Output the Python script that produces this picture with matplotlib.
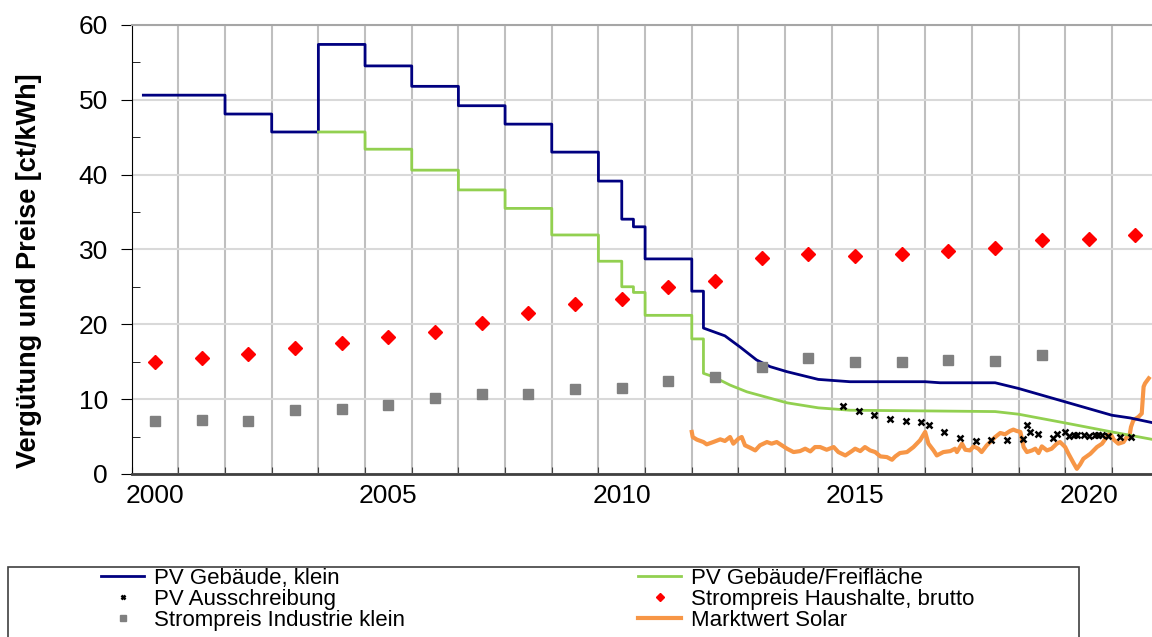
import numpy as np
import matplotlib
matplotlib.use("Agg")
import matplotlib.pyplot as plt
from matplotlib.patches import Rectangle

plt.rcParams["font.family"] = ["Liberation Sans", "DejaVu Sans"]

# --- data (years as decimal years, values in ct/kWh) ---

# PV Gebäude, klein: step tariffs, then the monthly degression curve
small_step_x = [2000.25, 2002.0, 2003.0, 2004.0, 2005.0, 2006.0, 2007.0, 2008.0,
                2009.0, 2010.0, 2010.5, 2010.75, 2011.0, 2012.0]
small_step_y = [50.62, 48.10, 45.70, 57.40, 54.53, 51.80, 49.21, 46.75,
                43.01, 39.14, 34.05, 33.03, 28.74, 24.43]
small_curve_x = [2012.25, 2012.71, 2013.04, 2013.39, 2013.68, 2014.04, 2014.71, 2015.39,
                 2017.0, 2017.32, 2018.5, 2019.0, 2020.0, 2021.0, 2021.39, 2021.86]
small_curve_y = [19.50, 18.46, 16.94, 15.23, 14.34, 13.67, 12.64, 12.33,
                 12.33, 12.19, 12.19, 11.43, 9.64, 7.85, 7.49, 6.87]

# PV Gebäude/Freifläche
free_step_x = [2004.0, 2005.0, 2006.0, 2007.0, 2008.0, 2009.0, 2010.0, 2010.5,
               2010.75, 2011.0, 2012.0]
free_step_y = [45.70, 43.40, 40.60, 37.96, 35.49, 31.94, 28.43, 25.02,
               24.26, 21.20, 18.05]
free_curve_x = [2012.25, 2012.46, 2012.82, 2013.18, 2014.04, 2014.71, 2015.39,
                2017.0, 2018.5, 2019.0, 2020.0, 2021.0, 2021.86]
free_curve_y = [13.45, 13.00, 11.88, 10.98, 9.51, 8.84, 8.52,
                8.43, 8.34, 7.99, 6.82, 5.62, 4.63]

# PV Ausschreibung (auction results)
auction_x = [2015.25, 2015.59, 2015.91, 2016.25, 2016.59, 2016.91, 2017.09, 2017.41,
             2017.75, 2018.09, 2018.41, 2018.75, 2019.09, 2019.18, 2019.25, 2019.41,
             2019.74, 2019.82, 2020.0, 2020.09, 2020.18, 2020.26, 2020.41, 2020.5,
             2020.64, 2020.71, 2020.79, 2020.91, 2021.18, 2021.41]
auction_y = [9.15, 8.43, 7.94, 7.36, 7.14, 6.91, 6.51, 5.62,
             4.85, 4.36, 4.59, 4.59, 4.68, 6.51, 5.62, 5.35,
             4.81, 5.35, 5.62, 5.03, 5.17, 5.26, 5.21, 5.12,
             5.21, 5.21, 5.21, 5.12, 4.99, 4.99]

# yearly prices, plotted at mid-year
price_years = np.arange(2000, 2022)
household_price = [15.00, 15.46, 16.10, 16.90, 17.55, 18.26, 18.93, 20.13, 21.46, 22.70,
                   23.35, 25.03, 25.84, 28.88, 29.40, 29.15, 29.35, 29.75, 30.18, 31.27,
                   31.40, 31.90]
industry_years = np.arange(2000, 2020)
industry_price = [7.08, 7.22, 7.08, 8.50, 8.64, 9.22, 10.11, 10.65, 10.65, 11.32,
                  11.49, 12.40, 12.90, 14.34, 15.46, 14.97, 14.97, 15.23, 15.10, 15.86]

# Marktwert Solar (monthly)
market_x = [2012.00, 2012.02, 2012.11, 2012.25, 2012.32, 2012.46, 2012.61, 2012.71, 2012.82,
            2012.89, 2013.00, 2013.07, 2013.14, 2013.25, 2013.36, 2013.46, 2013.61, 2013.71,
            2013.82, 2013.93, 2014.04, 2014.18, 2014.32, 2014.43, 2014.54, 2014.64, 2014.75,
            2014.89, 2015.04, 2015.14, 2015.29, 2015.43, 2015.50, 2015.61, 2015.71, 2015.82,
            2015.93, 2016.04, 2016.18, 2016.29, 2016.36, 2016.46, 2016.61, 2016.75, 2016.89,
            2017.00, 2017.07, 2017.18, 2017.25, 2017.39, 2017.54, 2017.64, 2017.68, 2017.79,
            2017.86, 2017.96, 2018.04, 2018.14, 2018.21, 2018.32, 2018.43, 2018.50, 2018.61,
            2018.71, 2018.82, 2018.89, 2018.96, 2019.04, 2019.11, 2019.18, 2019.29, 2019.36,
            2019.43, 2019.50, 2019.61, 2019.71, 2019.82, 2019.89, 2020.00, 2020.07, 2020.18,
            2020.25, 2020.32, 2020.39, 2020.54, 2020.68, 2020.79, 2020.89, 2020.96, 2021.04,
            2021.14, 2021.25, 2021.32, 2021.38, 2021.41, 2021.46, 2021.57, 2021.64, 2021.68,
            2021.71, 2021.79]
market_y = [5.62, 4.94, 4.59, 4.27, 3.96, 4.27, 4.63, 4.41, 4.94,
            4.05, 4.72, 4.94, 3.83, 3.51, 3.15, 3.83, 4.27, 4.05,
            4.27, 3.83, 3.38, 2.93, 3.06, 3.38, 3.02, 3.60, 3.60,
            3.24, 3.60, 2.93, 2.48, 3.06, 3.38, 3.06, 3.60, 3.15,
            2.93, 2.35, 2.26, 1.90, 2.35, 2.80, 2.93, 3.60, 4.50,
            5.62, 4.05, 3.15, 2.48, 2.93, 3.06, 3.38, 2.93, 4.05,
            3.24, 3.15, 3.69, 3.38, 2.93, 3.83, 4.50, 4.94, 5.48,
            5.30, 5.75, 5.93, 5.75, 5.62, 3.60, 2.93, 3.15, 3.38,
            2.80, 3.69, 3.15, 3.38, 4.05, 4.27, 3.60, 2.71, 1.45,
            0.69, 1.28, 2.04, 2.71, 3.60, 4.05, 4.94, 5.48, 4.59,
            4.05, 4.27, 4.94, 5.17, 6.29, 7.18, 7.63, 8.08, 11.66,
            12.10, 12.78]

year_labels = [2000, 2005, 2010, 2015, 2020]


def step_curve(step_x, step_y, curve_x, curve_y):
    # each tariff holds until the next change, then the smooth part follows
    ends = step_x[1:] + [curve_x[0]]
    xs, ys = [], []
    for x0, x1, y in zip(step_x, ends, step_y):
        xs += [x0, x1]
        ys += [y, y]
    return xs + curve_x, ys + curve_y


fig = plt.figure(figsize=(11.52, 6.37), dpi=100)
ax = fig.add_axes([0.1143, 0.2559, 0.8857, 0.7049])

x, y = step_curve(small_step_x, small_step_y, small_curve_x, small_curve_y)
ax.plot(x, y, color="#000080", lw=2.0, label="PV Gebäude, klein", zorder=4)
x, y = step_curve(free_step_x, free_step_y, free_curve_x, free_curve_y)
ax.plot(x, y, color="#92d050", lw=2.0, label="PV Gebäude/Freifläche", zorder=4)
ax.plot(auction_x, auction_y, ls="none", marker="x", ms=5, mew=1.8, color="black",
        label="PV Ausschreibung", zorder=6)
ax.plot(price_years + 0.5, household_price, ls="none", marker="D", ms=7.5, color="#ff0000",
        label="Strompreis Haushalte, brutto", zorder=5)
ax.plot(industry_years + 0.5, industry_price, ls="none", marker="s", ms=7, color="#808080",
        label="Strompreis Industrie klein", zorder=5)
ax.plot(market_x, market_y, color="#f79646", lw=3.0, label="Marktwert Solar", zorder=3)

ax.set_xlim(2000, 2021.86)
ax.set_ylim(0, 60)

ax.set_xticks(np.arange(2000, 2022))
ax.set_xticklabels([])
ax.set_xticks([yr + 0.5 for yr in year_labels], minor=True)
ax.set_xticklabels([str(yr) for yr in year_labels], minor=True, fontsize=19)
ax.tick_params(axis="x", which="major", direction="in", length=5, color="#404040")
ax.tick_params(axis="x", which="minor", length=0, pad=7)

ax.set_yticks(np.arange(0, 61, 10))
ax.set_yticks(np.arange(5, 60, 10), minor=True)
ax.tick_params(axis="y", which="major", direction="out", length=8, labelsize=19, pad=9)
ax.tick_params(axis="y", which="minor", direction="in", length=6)

ax.xaxis.grid(True, which="major", color="#bfbfbf", lw=1.5)
ax.yaxis.grid(True, which="major", color="#d9d9d9", lw=1.5)
ax.set_axisbelow(True)

ax.spines["right"].set_visible(False)
ax.spines["top"].set_color("#a6a6a6")
ax.spines["top"].set_linewidth(1.5)
ax.spines["bottom"].set_color("#404040")
ax.spines["bottom"].set_linewidth(2.0)
ax.spines["left"].set_color("black")

ax.set_ylabel("Vergütung und Preise [ct/kWh]", fontsize=19.5, fontweight="bold")
ax.yaxis.set_label_coords(-0.088, 0.452)

# legend: two columns inside one frame running off the bottom edge
handles, labels = ax.get_legend_handles_labels()
order_left = [0, 2, 4]
order_right = [1, 3, 5]
leg_kw = dict(frameon=False, loc="upper left", fontsize=16, borderpad=0, borderaxespad=0,
              handlelength=1.95, handletextpad=0.45, labelspacing=0.0, markerscale=0.6)
leg1 = fig.legend([handles[i] for i in order_left], [labels[i] for i in order_left],
                  bbox_to_anchor=(101 / 1152, 1 - 568 / 637), **leg_kw)
leg2 = fig.legend([handles[i] for i in order_right], [labels[i] for i in order_right],
                  bbox_to_anchor=(638 / 1152, 1 - 568 / 637), **leg_kw)
fig.add_artist(Rectangle((8 / 1152, -0.05), (1079 - 8) / 1152, 0.05 + 1 - 567 / 637,
                         transform=fig.transFigure, fill=False, edgecolor="#404040", lw=1.2))

fig.savefig("out.png", dpi=100)
